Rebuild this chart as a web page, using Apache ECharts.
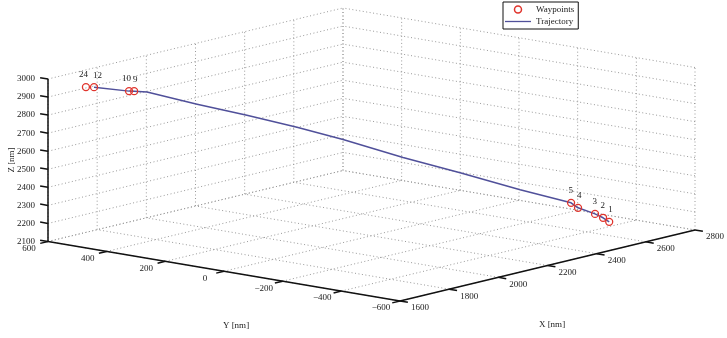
<!DOCTYPE html>
<html>
<head>
<meta charset="utf-8">
<script src="https://cdn.jsdelivr.net/npm/echarts@6/dist/echarts.min.js"></script>
<style>
  html, body { margin: 0; padding: 0; background: #fff; }
  #chart { width: 727px; height: 338px; }
</style>
</head>
<body>
<div id="chart"></div>
<script>
// axis ticks
const xTicks = [1600, 1800, 2000, 2200, 2400, 2600, 2800];
const yTicks = [600, 400, 200, 0, -200, -400, -600];
const zTicks = [2100, 2200, 2300, 2400, 2500, 2600, 2700, 2800, 2900, 3000];

// waypoints
const wpLabel = ['1', '2', '3', '4', '5', '9', '10', '12', '24'];
const wpX = [2624, 2611, 2595, 2564, 2550, 1726, 1716, 1650, 1635];
const wpY = [-455, -445, -431, -399, -387, 412, 421, 485, 500];
const wpZ = [2163, 2187, 2210, 2245, 2274, 2943, 2944, 2970, 2971];

// trajectory
const trajX = [2624, 2611, 2595, 2564, 2550, 2455, 2342, 2234, 2120, 2033, 1939, 1845, 1751, 1726, 1716, 1650];
const trajY = [-455, -445, -431, -399, -387, -293, -183, -79, 30, 114, 206, 297, 389, 412, 421, 485];
const trajZ = [2163, 2187, 2210, 2245, 2274, 2352, 2453, 2544, 2651, 2724, 2796, 2863, 2936, 2943, 2944, 2970];

const FONT = 'Liberation Serif';
const xMin = 1600, xMax = 2800, yMin = -600, yMax = 600, zMin = 2100, zMax = 3000;

// screen position of box corners (the view of the 3d box)
const pO = [48, 241.5];   // x=min, y=max, z=min
const pX = [343, 170.5];  // x=max, y=max, z=min
const pY = [400, 301];    // x=min, y=min, z=min
const pZ = [48, 79];      // x=min, y=max, z=max

function project(x, y, z) {
  const fx = (x - xMin) / (xMax - xMin);
  const fy = (yMax - y) / (yMax - yMin);
  const fz = (z - zMin) / (zMax - zMin);
  return [
    pO[0] + fx * (pX[0] - pO[0]) + fy * (pY[0] - pO[0]) + fz * (pZ[0] - pO[0]),
    pO[1] + fx * (pX[1] - pO[1]) + fy * (pY[1] - pO[1]) + fz * (pZ[1] - pO[1])
  ];
}

function unit(a, b) {
  const dx = b[0] - a[0], dy = b[1] - a[1];
  const l = Math.sqrt(dx * dx + dy * dy);
  return [dx / l, dy / l];
}

function seg(a, b, dotted) {
  return {
    type: 'line',
    shape: { x1: a[0], y1: a[1], x2: b[0], y2: b[1] },
    style: dotted
      ? { stroke: '#9a9a9a', lineWidth: 1, lineDash: [1, 2.5] }
      : { stroke: '#111', lineWidth: 1.5 }
  };
}

function txt(x, y, s, align) {
  return {
    type: 'text', x: x, y: y,
    style: { text: s, fill: '#222', fontFamily: FONT, fontSize: 9, align: align || 'center', verticalAlign: 'middle' }
  };
}

function fmt(v) {
  return v < 0 ? '\u2212' + Math.abs(v) : String(v);
}

function renderFrame() {
  const ch = [];
  // floor grid
  xTicks.forEach(x => ch.push(seg(project(x, yMin, zMin), project(x, yMax, zMin), true)));
  yTicks.forEach(y => ch.push(seg(project(xMin, y, zMin), project(xMax, y, zMin), true)));
  // back wall y = max
  xTicks.forEach(x => ch.push(seg(project(x, yMax, zMin), project(x, yMax, zMax), true)));
  zTicks.forEach(z => ch.push(seg(project(xMin, yMax, z), project(xMax, yMax, z), true)));
  // back wall x = max
  yTicks.forEach(y => ch.push(seg(project(xMax, y, zMin), project(xMax, y, zMax), true)));
  zTicks.forEach(z => ch.push(seg(project(xMax, yMin, z), project(xMax, yMax, z), true)));

  // axis lines
  ch.push(seg(project(xMin, yMax, zMin), project(xMin, yMax, zMax)));
  ch.push(seg(project(xMin, yMax, zMin), project(xMin, yMin, zMin)));
  ch.push(seg(project(xMin, yMin, zMin), project(xMax, yMin, zMin)));

  const tl = 8;
  const dZ = unit(pY, pO);   // z ticks point back-left
  const dX = unit(pO, pY);   // x ticks point front
  const dY = unit(pX, pO);   // y ticks point left
  zTicks.forEach(z => {
    const p = project(xMin, yMax, z);
    ch.push(seg(p, [p[0] + dZ[0] * tl, p[1] + dZ[1] * tl]));
    ch.push(txt(p[0] - 13, p[1], fmt(z), 'right'));
  });
  xTicks.forEach(x => {
    const p = project(x, yMin, zMin);
    ch.push(seg(p, [p[0] + dX[0] * tl, p[1] + dX[1] * tl]));
    ch.push(txt(p[0] + 20, p[1] + 7, fmt(x)));
  });
  yTicks.forEach(y => {
    const p = project(xMin, y, zMin);
    ch.push(seg(p, [p[0] + dY[0] * tl, p[1] + dY[1] * tl]));
    ch.push(txt(p[0] - 19, p[1] + 7, fmt(y)));
  });

  // axis titles
  ch.push(txt(552, 325, 'X [nm]'));
  ch.push(txt(236, 326, 'Y [nm]'));
  const zt = txt(12, 160, 'Z [nm]');
  zt.rotation = Math.PI / 2;
  ch.push(zt);
  return { type: 'group', children: ch };
}

// screen positions of all waypoints, used to keep labels of close pairs apart
const wpScreen = wpX.map((x, i) => project(x, wpY[i], wpZ[i]));

const chart = echarts.init(document.getElementById('chart'));
chart.setOption({
  animation: false,
  backgroundColor: '#fff',
  legend: {
    data: [
      { name: 'Waypoints', icon: 'circle', itemStyle: { color: '#fff', borderColor: '#e0342c', borderWidth: 1.5 } },
      { name: 'Trajectory', icon: 'path://M0,0 L30,0 L30,1.5 L0,1.5 Z', itemStyle: { color: '#50509a' } }
    ],
    orient: 'vertical',
    left: 503, top: 2,
    itemWidth: 26, itemHeight: 7, itemGap: 3,
    padding: [3, 4, 3, 2],
    borderColor: '#111', borderWidth: 1,
    selectedMode: false,
    textStyle: { fontFamily: FONT, fontSize: 9, color: '#222' }
  },
  series: [
    {
      type: 'custom', name: 'frame', coordinateSystem: 'none', silent: true,
      data: [0],
      renderItem: () => renderFrame()
    },
    {
      type: 'custom', name: 'Trajectory', coordinateSystem: 'none', silent: true,
      itemStyle: { color: '#50509a' },
      data: trajX.map((x, i) => [x, trajY[i], trajZ[i]]),
      renderItem: (params, api) => {
        if (params.dataIndexInside !== 0) return { type: 'group', children: [] };
        const pts = [];
        for (let i = 0; i < params.dataInsideLength; i++) {
          pts.push(project(api.value(0, i), api.value(1, i), api.value(2, i)));
        }
        return {
          type: 'polyline', shape: { points: pts },
          style: { stroke: '#50509a', lineWidth: 1.5, fill: null, lineJoin: 'round' }
        };
      }
    },
    {
      type: 'custom', name: 'Waypoints', coordinateSystem: 'none', silent: true,
      itemStyle: { color: '#e0342c' },
      data: wpX.map((x, i) => [x, wpY[i], wpZ[i]]),
      renderItem: (params, api) => {
        const idx = params.dataIndex;
        const p = project(api.value(0), api.value(1), api.value(2));
        // if another waypoint sits just to the right, put this label on the left
        const crowded = wpScreen.some((q, j) => j !== idx && q[0] > p[0] && q[0] - p[0] < 10 && Math.abs(q[1] - p[1]) < 8);
        const label = crowded
          ? txt(p[0] + 2, p[1] - 12, wpLabel[idx], 'right')
          : txt(p[0] - 1, p[1] - 12, wpLabel[idx], 'left');
        return {
          type: 'group',
          children: [
            { type: 'circle', shape: { cx: p[0], cy: p[1], r: 3.5 },
              style: { stroke: '#e0342c', lineWidth: 1.3, fill: 'rgba(255,255,255,0)' } },
            label
          ]
        };
      }
    }
  ]
});
</script>
</body>
</html>
